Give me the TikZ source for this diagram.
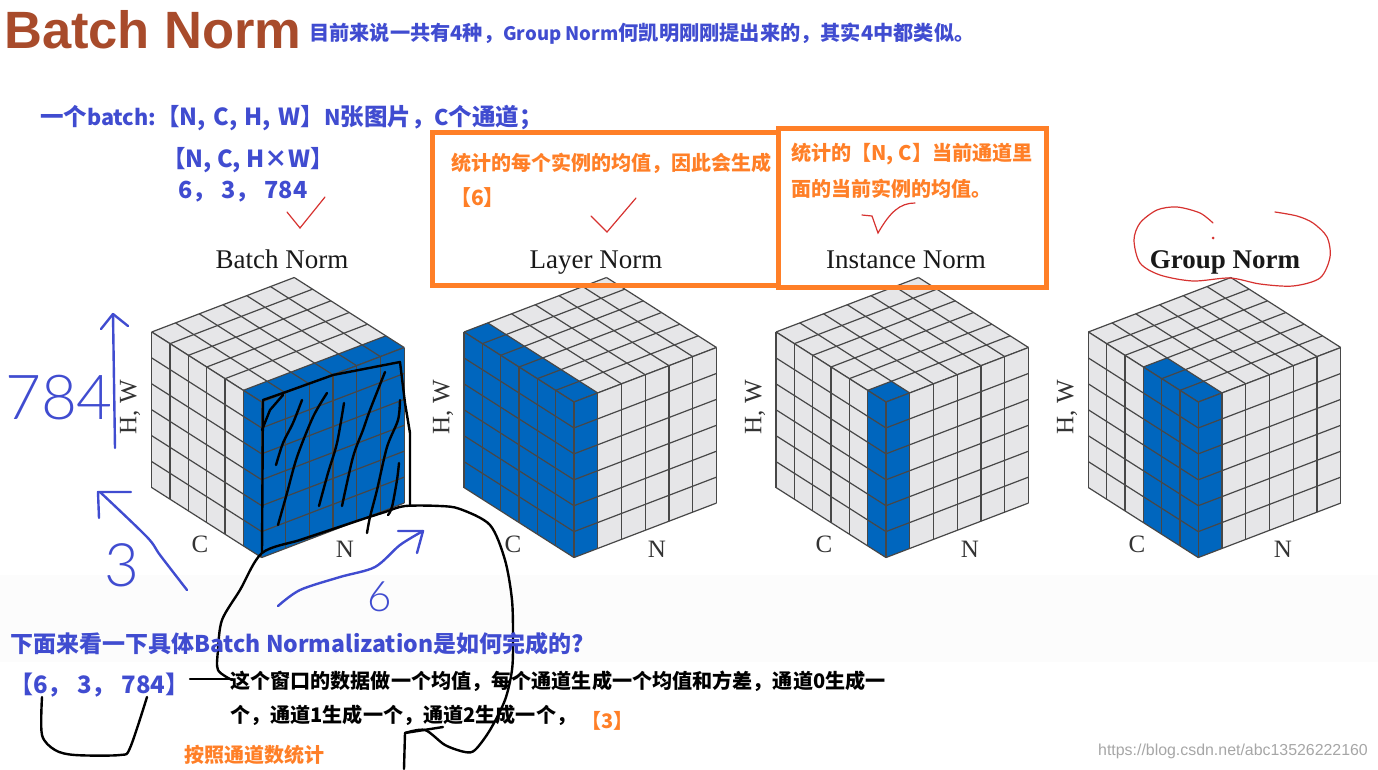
\documentclass[tikz,border=0pt]{standalone}
\usepackage{fontspec}
\setmainfont{Liberation Serif}
\newfontfamily\cjk{Noto Sans CJK SC}
\newfontfamily\cjklatin[Scale=0.92]{Noto Sans CJK SC}
\newfontfamily\arial{Liberation Sans}
\newfontfamily\handfont{Lato Light}
\usetikzlibrary{calc}
\definecolor{penblue}{RGB}{64, 76, 208}
\definecolor{boxorange}{RGB}{255, 127, 39}
\definecolor{titlebrown}{RGB}{168, 75, 43}
\definecolor{cellblue}{RGB}{0, 102, 190}
\definecolor{cellgray}{RGB}{230, 230, 232}
\definecolor{redpen}{RGB}{214, 50, 48}
\newcommand{\sz}[1]{\fontsize{#1}{#1}\selectfont}
\newcommand{\la}[1]{{\cjklatin\bfseries #1}}
\tikzset{
  facegray/.style={fill=cellgray},
  faceblue/.style={fill=cellblue},
  gridline/.style={draw=black!72, line width=1.2pt}
}
% one face: origin, x vector, y vector, blue from, blue to, blue rows
\newcommand{\cubeface}[6]{%
  \begin{scope}[shift={#1}, x={#2}, y={#3}]
    \fill[facegray] (0,0) -- (6,0) -- (6,6) -- (0,6) -- cycle;
    \fill[faceblue] (#4,0) -- (#5,0) -- (#5,#6) -- (#4,#6) -- cycle;
    \foreach \k in {0,...,6} {
      \draw[gridline] (\k,0) -- (\k,6);
      \draw[gridline] (0,\k) -- (6,\k);
    }
  \end{scope}}
% whole cube: left edge, first blue C column, number of blue N columns
\newcommand{\normcube}[3]{%
  \pgfmathtruncatemacro{\toprows}{6-#2}
  \begin{scope}[xshift=#1pt]
    \cubeface{(110,402)}{(23.75pt,9.08pt)}{(-18.33pt,11.67pt)}{0}{#3}{\toprows}
    \cubeface{(0,332)}{(18.33pt,-11.67pt)}{(0pt,-25.92pt)}{#2}{6}{6}
    \cubeface{(110,402)}{(23.75pt,9.08pt)}{(0pt,-25.92pt)}{0}{#3}{6}
  \end{scope}}
\begin{document}
\begin{tikzpicture}[x=1pt, y=-1pt,
    bluetext/.style={anchor=west, inner sep=0pt, text=penblue, font=\cjk\bfseries},
    orangetext/.style={anchor=west, inner sep=0pt, text=boxorange, font=\cjk\bfseries},
    blacktext/.style={anchor=west, inner sep=0pt, text=black, font=\cjk\bfseries},
    axislabel/.style={inner sep=0pt, text=black!80, font=\sz{25}},
    headlabel/.style={anchor=base, inner sep=0pt, text=black!90, font=\sz{27}},
    handdigit/.style={inner sep=0pt, text=penblue, font=\handfont},
    orangebox/.style={draw=boxorange, line width=5pt},
    bluestroke/.style={draw=penblue, line width=2.4pt, line join=round, line cap=round},
    blackstroke/.style={draw=black, line width=2.4pt, line join=round, line cap=round},
    redstroke/.style={draw=redpen, line width=1.2pt, line cap=round}
  ]
  \useasboundingbox (0,0) rectangle (1378,769);
  \fill[black!1] (0,575) rectangle (1378,662);

  % title and header text
  \node[anchor=west, inner sep=0pt, text=titlebrown, font=\arial\bfseries\sz{52.5}] (title) at (4,30) {Batch Norm};
  \node[bluetext, font=\cjk\bfseries\sz{20.2}] (intro) at (309,34) {目前来说一共有4种，\la{Group Norm}何凯明刚刚提出来的，其实4中都类似。};
  \node[bluetext, font=\cjk\bfseries\sz{23.5}] (shapea) at (40,118) {一个\la{batch:}【N,\hspace{2pt} C,\hspace{2pt} H,\hspace{2pt} W】\la{N}张图片，\la{C}个通道；};
  \node[bluetext, font=\cjk\bfseries\sz{23.5}] (shapeb) at (162,160) {【N, C, H×W】};
  \node[bluetext, font=\cjk\bfseries\sz{23.5}] (shapec) at (178,192) {6， 3， 784};

  % the four cubes
  \normcube{151.7}{5}{6}
  \normcube{464}{0}{1}
  \normcube{776}{5}{1}
  \normcube{1088.3}{3}{1}

  \node[headlabel] (batchhead) at (282,268) {Batch Norm};
  \node[headlabel] (layerhead) at (596,268) {Layer Norm};
  \node[headlabel] (insthead) at (906,268) {Instance Norm};
  \node[headlabel, font=\bfseries\sz{27}] (grouphead) at (1225,268) {Group Norm};

  \foreach \nm/\cx/\nx/\hx in {a/200/345/130, b/513/657/443, c/824/970/755, d/1137/1283/1067} {
    \node[axislabel] (c\nm) at (\cx,544) {C};
    \node[axislabel] (n\nm) at (\nx,549) {N};
    \node[axislabel, rotate=90] (h\nm) at (\hx,407) {H, W};
  }

  % orange boxes
  \node[orangebox, draw, minimum width=346pt, minimum height=153pt, inner sep=0pt] (layerbox) at (605,208.5) {};
  \node[orangebox, draw, minimum width=268pt, minimum height=159pt, inner sep=0pt] (instbox) at (912,207.5) {};
  \node[orangetext, font=\cjk\bfseries\sz{20}] (layera) at (451,163) {统计的每个实例的均值，因此会生成};
  \node[orangetext, font=\cjk\bfseries\sz{21}] (layerb) at (450,198) {【6】};
  \node[orangetext, font=\cjk\bfseries\sz{20.1}] (insta) at (791,154) {统计的【N, C】当前通道里};
  \node[orangetext, font=\cjk\bfseries\sz{20}] (instb) at (791,189) {面的当前实例的均值。};

  % red pen
  \draw[redstroke] plot coordinates {(287,212) (300,228) (325,197)};
  \draw[redstroke] plot coordinates {(591,216) (607,232) (636,198)};
  \draw[redstroke] (862,215) -- (872,216) -- (878,233) .. controls (890,212) and (900,203) .. (915,203);
  \draw[redstroke] plot[smooth] coordinates {(1213,223) (1200,213) (1177,207) (1157,210) (1140,223) (1134,240) (1140,263) (1160,275) (1193,281) (1230,278) (1260,284) (1293,286) (1320,278) (1330,257) (1327,237) (1313,223) (1297,216) (1275,212)};
  \fill[redpen] (1213,238) circle (1.5pt);

  % blue pen
  \draw[bluestroke] (115,448) -- (113,314);
  \draw[bluestroke] (101,329) -- (113,314) -- (128,326);
  \draw[bluestroke] plot[smooth] coordinates {(187,590) (160,555) (147,537) (100,492)};
  \draw[bluestroke] (99,518) -- (98,492) -- (131,492);
  \draw[bluestroke] plot[smooth] coordinates {(278,606) (300,590) (340,577) (375,567) (400,545) (423,531)};
  \draw[bluestroke] (398,531) -- (423,531) -- (417,553);
  \node[handdigit, font=\handfont\sz{62}] (sevenfour) at (59,398) {784};
  \node[handdigit, font=\handfont\sz{60}] (threehand) at (122,565) {3};
  \node[handdigit, font=\handfont\sz{42}] (six) at (380,597) {6};

  % black pen
  \draw[blackstroke] plot coordinates {(262,553) (263,400) (283,393) (333,375) (400,362) (405,403) (410,433) (410,505)};
  \draw[blackstroke] plot[smooth] coordinates {(302,400) (293,423) (283,443) (276,465)};
  \draw[blackstroke] plot[smooth] coordinates {(327,393) (313,417) (297,457) (287,493) (278,525)};
  \draw[blackstroke] plot[smooth] coordinates {(344,403) (337,443) (328,473) (319,506)};
  \draw[blackstroke] plot[smooth] coordinates {(385,372) (370,410) (363,430) (353,457) (342,506)};
  \draw[blackstroke] plot[smooth] coordinates {(400,400) (398,420) (387,447) (377,490) (370,517) (367,533)};
  \draw[blackstroke] plot[smooth] coordinates {(399,463) (397,480) (392,507) (388,515)};
  \draw[blackstroke] plot coordinates {(262,430) (270,410) (283,395)};
  \draw[blackstroke] plot[smooth] coordinates {(232,680) (218,670) (218,650) (222,620) (240,590) (262,553) (300,540) (330,530) (360,520) (385,512) (405,506) (440,506) (460,509) (490,525) (505,560) (512,600) (513,640) (512,670) (505,700) (490,730) (475,750) (465,752) (445,745) (425,730) (405,733)};
  \draw[blackstroke] (443,727) -- (405,733) -- (404,769);
  \draw[blackstroke] (190,679) -- (232,679);
  \draw[blackstroke] plot[smooth] coordinates {(42,697) (42,735) (55,750) (75,755) (120,755) (130,748) (147,697)};

  % lower text
  \node[bluetext, font=\cjk\bfseries\sz{23}] (lowerhead) at (10,644) {下面来看一下具体Batch Normalization是如何完成的?};
  \node[bluetext, font=\cjk\bfseries\sz{24}] (tensor) at (9,685) {【6， 3， 784】};
  \node[blacktext, font=\cjk\bfseries\sz{20.1}] (lowera) at (230,681) {这个窗口的数据做一个均值，每个通道生成一个均值和方差，通道0生成一};
  \node[blacktext, font=\cjk\bfseries\sz{20.1}] (lowerb) at (230,715) {个，通道1生成一个，通道2生成一个，};
  \node[orangetext, font=\cjk\bfseries\sz{20}] (threeout) at (581,721) {【3】};
  \node[orangetext, font=\cjk\bfseries\sz{20}] (bychannel) at (184,755) {按照通道数统计};
  \node[anchor=west, inner sep=0pt, text=black!35, font=\arial\sz{15.9}] (mark) at (1098,751) {https://blog.csdn.net/abc13526222160};
\end{tikzpicture}
\end{document}
